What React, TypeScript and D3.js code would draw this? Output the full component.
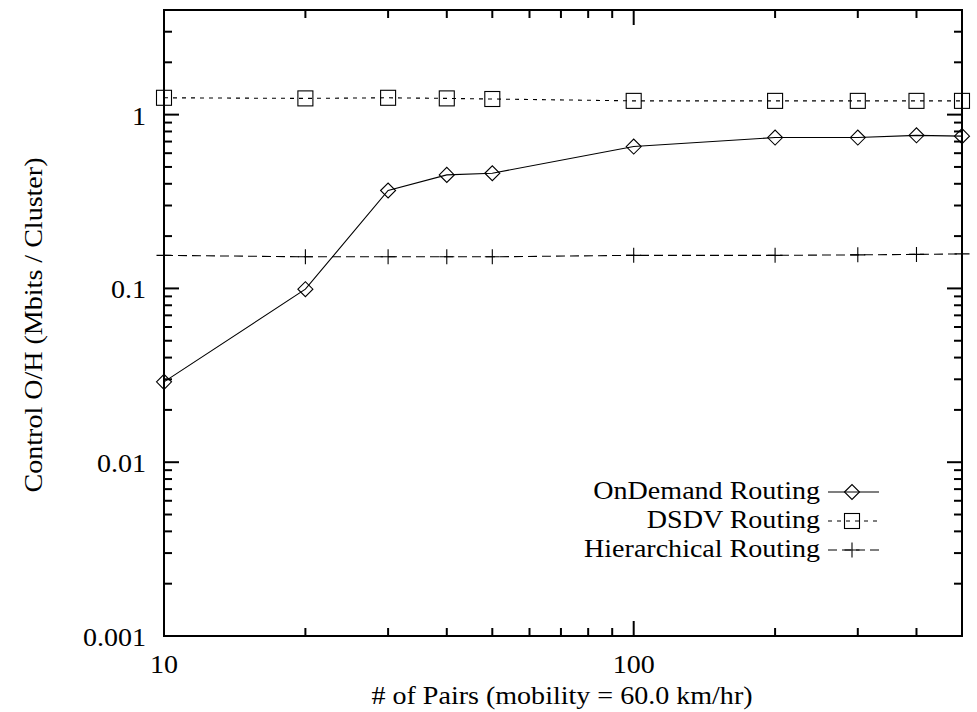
import React from "react";
import * as d3 from "d3";

const pairs = [10, 20, 30, 40, 50, 100, 200, 300, 400, 500];
const onDemand = [0.029, 0.099, 0.366, 0.45, 0.46, 0.655, 0.738, 0.738, 0.76, 0.752];
const dsdv = [1.25, 1.24, 1.25, 1.24, 1.23, 1.2, 1.2, 1.2, 1.2, 1.2];
const hierarchical = [0.155, 0.152, 0.152, 0.152, 0.152, 0.155, 0.155, 0.156, 0.157, 0.158];

const yTickLabels = ["0.001", "0.01", "0.1", "1"];
const yTickValues = [0.001, 0.01, 0.1, 1];
const xTickLabels = ["10", "100"];
const xTickValues = [10, 100];

const seriesNames = ["OnDemand Routing", "DSDV Routing", "Hierarchical Routing"];
const xTitle = "# of Pairs (mobility = 60.0 km/hr)";
const yTitle = "Control O/H (Mbits / Cluster)";

const W = 977, H = 712;
const L = 164, R = 962, T = 10, B = 636;
const FONT = "Liberation Serif";
const SX = 1.1;
const TS: React.CSSProperties = { fontFamily: FONT, fontSize: 25.5 };

function Txt({ x, y, anchor, rotate, children }: { x: number; y: number; anchor: string; rotate?: number; children: React.ReactNode }) {
  return (
    <text
      transform={`translate(${x},${y})${rotate ? ` rotate(${rotate})` : ""} scale(${SX},1)`}
      textAnchor={anchor}
      style={TS}
      fill="#000"
    >
      {children}
    </text>
  );
}

function Marker({ kind, x, y }: { kind: string; x: number; y: number }) {
  const s = 7.5;
  if (kind === "diamond")
    return <path d={`M${x - s},${y}L${x},${y - s}L${x + s},${y}L${x},${y + s}Z`} fill="none" stroke="#000" strokeWidth={1.1} />;
  if (kind === "square")
    return <rect x={x - s} y={y - s} width={2 * s} height={2 * s} fill="none" stroke="#000" strokeWidth={1.1} />;
  return <path d={`M${x - s},${y}H${x + s}M${x},${y - s}V${y + s}`} stroke="#000" strokeWidth={1.1} />;
}

export default function App() {
  const x = d3.scaleLog().domain([10, 500]).range([L, R]);
  const y = d3.scaleLog().domain([0.001, 4]).range([B, T]);

  const series = [
    { name: seriesNames[0], vals: onDemand, kind: "diamond", dash: "" },
    { name: seriesNames[1], vals: dsdv, kind: "square", dash: "4,5" },
    { name: seriesNames[2], vals: hierarchical, kind: "plus", dash: "9,5" },
  ];

  const line = (vals: number[]) =>
    d3.line<number>().x((_, i) => x(pairs[i])).y((v) => y(v))(vals) || "";

  const yMinor: number[] = [];
  for (let e = -3; e <= 0; e++) {
    for (let m = 2; m <= 9; m++) {
      const v = m * Math.pow(10, e);
      if (v <= 4) yMinor.push(v);
    }
  }
  const xMinor: number[] = [];
  for (let e = 1; e <= 2; e++) {
    for (let m = 2; m <= 9; m++) {
      const v = m * Math.pow(10, e);
      if (v < 500) xMinor.push(v);
    }
  }
  const MAJ = 15, MIN = 8;

  const legX = 820, legY = [499, 528, 557];
  const sampleX1 = 828, sampleX2 = 879, sampleM = 852;

  return (
    <svg width={W} height={H} style={{ position: "absolute", left: 0, top: 0, background: "#fff" }}>
      <rect width={W} height={H} fill="#fff" />
      <g stroke="#000" strokeWidth={2}>
        {yTickValues.map((v) => (
          <g key={"ym" + v}>
            <line x1={L} x2={L + MAJ} y1={y(v)} y2={y(v)} />
            <line x1={R} x2={R - MAJ} y1={y(v)} y2={y(v)} />
          </g>
        ))}
        {yMinor.map((v) => (
          <g key={"yn" + v}>
            <line x1={L} x2={L + MIN} y1={y(v)} y2={y(v)} />
            <line x1={R} x2={R - MIN} y1={y(v)} y2={y(v)} />
          </g>
        ))}
        {xTickValues.map((v) => (
          <g key={"xm" + v}>
            <line x1={x(v)} x2={x(v)} y1={B} y2={B - MAJ} />
            <line x1={x(v)} x2={x(v)} y1={T} y2={T + MAJ} />
          </g>
        ))}
        {xMinor.map((v) => (
          <g key={"xn" + v}>
            <line x1={x(v)} x2={x(v)} y1={B} y2={B - MIN} />
            <line x1={x(v)} x2={x(v)} y1={T} y2={T + MIN} />
          </g>
        ))}
      </g>
      <rect x={L} y={T} width={R - L} height={B - T} fill="none" stroke="#000" strokeWidth={2} />

      {yTickValues.map((v, i) => (
        <Txt key={"yl" + v} x={146} y={y(v) + 10} anchor="end">{yTickLabels[i]}</Txt>
      ))}
      {xTickValues.map((v, i) => (
        <Txt key={"xl" + v} x={x(v)} y={673} anchor="middle">{xTickLabels[i]}</Txt>
      ))}
      <Txt x={562} y={704} anchor="middle">{xTitle}</Txt>
      <Txt x={42} y={325} anchor="middle" rotate={-90}>{yTitle}</Txt>

      {series.map((s) => (
        <g key={s.name}>
          <path d={line(s.vals)} fill="none" stroke="#000" strokeWidth={1.1} strokeDasharray={s.dash || undefined} />
          {s.vals.map((v, i) => (
            <Marker key={i} kind={s.kind} x={x(pairs[i])} y={y(v)} />
          ))}
        </g>
      ))}

      {series.map((s, i) => (
        <g key={"leg" + s.name}>
          <Txt x={legX} y={legY[i]} anchor="end">{s.name}</Txt>
          <line x1={sampleX1} x2={sampleX2} y1={legY[i] - 7} y2={legY[i] - 7} stroke="#000" strokeWidth={1.1} strokeDasharray={s.dash || undefined} />
          <Marker kind={s.kind} x={sampleM} y={legY[i] - 7} />
        </g>
      ))}
    </svg>
  );
}
